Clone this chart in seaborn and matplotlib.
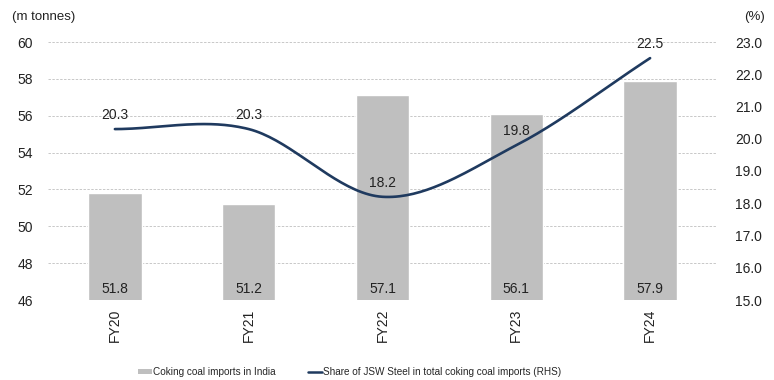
import numpy as np
import matplotlib
matplotlib.use("Agg")
import matplotlib.pyplot as plt
import seaborn as sns
import pandas as pd
from matplotlib.patches import Patch
from matplotlib.lines import Line2D

years = ["FY20", "FY21", "FY22", "FY23", "FY24"]
imports = [51.8, 51.2, 57.1, 56.1, 57.9]
share = [20.3, 20.3, 18.2, 19.8, 22.5]

sns.set_theme(style="white")
plt.rcParams['font.family'] = ['Liberation Sans', 'DejaVu Sans']

fig = plt.figure(figsize=(7.74, 3.80), dpi=100)
ax = fig.add_axes([48/774, 1-300/380, (717-48)/774, (300-42)/380])

df = pd.DataFrame({"year": years, "imports": imports})
sns.barplot(data=df, x="year", y="imports", color="#BFBFBF", width=0.4,
            saturation=1, ax=ax, zorder=2)
ax.set_ylim(46, 60)
ax.set_xlim(-0.5, 4.5)
ax.set_yticks(np.arange(46, 61, 2))
ax.set_ylabel("")
ax.set_xlabel("")
for s in ax.spines.values():
    s.set_visible(False)
ax.grid(axis="y", color="#C8C8C8", linestyle=(0, (2.5, 1.5)), linewidth=0.7, zorder=0)
ax.set_axisbelow(True)
ax.tick_params(axis="y", length=0, pad=11, labelsize=10, labelcolor="#222222")
ax.tick_params(axis="x", length=0, pad=6, labelsize=10, labelcolor="#222222")
for lbl in ax.get_xticklabels():
    lbl.set_rotation(90)

for i, v in enumerate(imports):
    ax.text(i, 46.6, f"{v:.1f}", ha="center", va="center", fontsize=10, color="#222222", zorder=5)

ax2 = ax.twinx()
ax2.set_ylim(15, 23)
ax2.set_yticks(np.arange(15, 23.1, 1))
ax2.set_yticklabels([f"{t:.1f}" for t in np.arange(15, 23.1, 1)])
for s in ax2.spines.values():
    s.set_visible(False)
ax2.tick_params(axis="y", length=0, pad=13, labelsize=10, labelcolor="#222222")
ax2.grid(False)

# Smoothed line (Catmull-Rom through the data points)
xs = np.arange(len(share), dtype=float)
ys = np.array(share, dtype=float)
px = np.concatenate([[2*xs[0]-xs[1]], xs, [2*xs[-1]-xs[-2]]])
py = np.concatenate([[2*ys[0]-ys[1]], ys, [2*ys[-1]-ys[-2]]])
cx, cy = [], []
for k in range(1, len(px)-2):
    t = np.linspace(0, 1, 40)
    p0, p1, p2, p3 = py[k-1], py[k], py[k+1], py[k+2]
    q0, q1, q2, q3 = px[k-1], px[k], px[k+1], px[k+2]
    f = lambda a0, a1, a2, a3: 0.5*((2*a1) + (-a0+a2)*t + (2*a0-5*a1+4*a2-a3)*t**2 + (-a0+3*a1-3*a2+a3)*t**3)
    cx.extend(f(q0, q1, q2, q3)); cy.extend(f(p0, p1, p2, p3))
sns.lineplot(x=cx, y=cy, ax=ax2, color="#1F3A5F", linewidth=1.9, sort=False, estimator=None)

for i, v in enumerate(share):
    ax2.text(i, v + 0.44, f"{v:.1f}", ha="center", va="center", fontsize=10, color="#222222")

fig.text(12/774, 1-17/380, "(m tonnes)", ha="left", va="center", fontsize=9.5, color="#222222")
fig.text(765/774, 1-17/380, "(%)", ha="right", va="center", fontsize=9.5, color="#222222")
fig.text(0.5, 1.0 + 5/380, "Coking coal imports in India grew as did JSW Steel's share",
         ha="center", va="baseline", fontsize=14, fontweight="bold")

handles = [Patch(facecolor="#BFBFBF", edgecolor="none", label="Coking coal imports in India"),
           Line2D([0], [0], color="#1F3A5F", lw=1.8, label="Share of JSW Steel in total coking coal imports (RHS)")]
fig.legend(handles=handles, loc="center", bbox_to_anchor=(0.452, 1-372/380), ncol=2,
           frameon=False, fontsize=7.2, handlelength=1.4, handleheight=0.5,
           handletextpad=0.1, columnspacing=3.2)

fig.savefig("out.png", dpi=100)
